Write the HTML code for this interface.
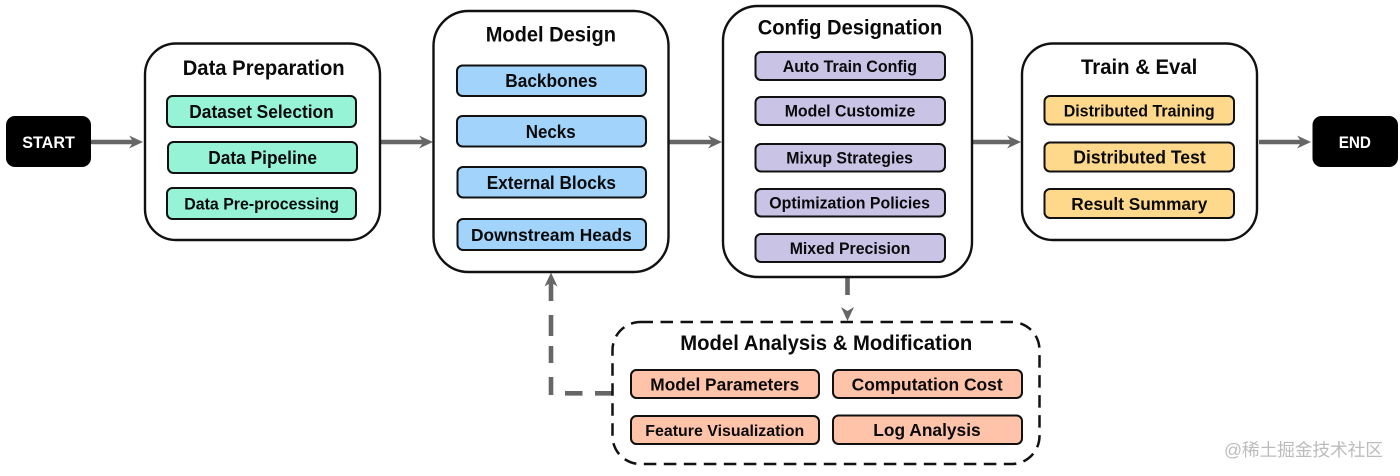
<!DOCTYPE html>
<html>
<head>
<meta charset="utf-8">
<style>
html,body{margin:0;padding:0;background:#fff;width:1400px;height:476px;overflow:hidden}
svg{display:block}
text{font-family:"Liberation Sans",Arial,sans-serif;font-weight:bold;fill:#0a0a0a}
.big{fill:#fff;stroke:#111;stroke-width:2.4}
.it{stroke:#111;stroke-width:2}
.g{fill:#97f3d6}.b{fill:#a1d3fb}.p{fill:#c9c3e6}.y{fill:#fed98c}.o{fill:#fec3a9}
.ln{stroke:#666;stroke-width:4.6;fill:none}
.hd{fill:#666}
.t{font-size:21px}
</style>
</head>
<body>
<svg width="1400" height="476" viewBox="0 0 1400 476" xmlns="http://www.w3.org/2000/svg">
<rect width="1400" height="476" fill="#fff"/>

<!-- connectors -->
<path class="ln" d="M91 142H136M381 142H425M669 142H714M972 142H1014M1259 142H1303"/>
<polygon class="hd" points="143,142 129,135.500 133.500,142 129,148.500"/>
<polygon class="hd" points="433,142 419,135.500 423.500,142 419,148.500"/>
<polygon class="hd" points="722,142 708,135.500 712.500,142 708,148.500"/>
<polygon class="hd" points="1021,142 1007,135.500 1011.500,142 1007,148.500"/>
<polygon class="hd" points="1311,142 1297,135.500 1301.500,142 1297,148.500"/>

<!-- dashed connectors -->
<path class="ln" d="M847.500 277V295"/>
<polygon class="hd" points="847.500,321 841,307 847.500,311 854,307"/>
<path class="ln" d="M612 393.300H595M582.500 393.300H565M551 395V377M551 363V346M551 336V315M551 301V281"/>
<polygon class="hd" points="551,272.500 544.500,286.500 551,282.500 557.500,286.500"/>

<!-- START / END -->
<rect x="6" y="116" width="85" height="51" rx="9" fill="#000"/>
<text x="22.300" y="148" font-size="17" textLength="52.500" lengthAdjust="spacingAndGlyphs" style="fill:#fff">START</text>
<rect x="1312.500" y="116" width="85.500" height="51" rx="9" fill="#000"/>
<text x="1338.700" y="148" font-size="17" textLength="32.300" lengthAdjust="spacingAndGlyphs" style="fill:#fff">END</text>

<!-- Data Preparation -->
<rect class="big" x="145" y="43.500" width="235" height="196.500" rx="31"/>
<text class="t" x="182.700" y="75" textLength="162" lengthAdjust="spacingAndGlyphs">Data Preparation</text>
<rect class="it g" x="167" y="96" width="189" height="31" rx="5.500"/>
<text x="189.300" y="118" font-size="18" textLength="144.400" lengthAdjust="spacingAndGlyphs">Dataset Selection</text>
<rect class="it g" x="168" y="142" width="189" height="31" rx="5.500"/>
<text x="208.300" y="164" font-size="18" textLength="108.700" lengthAdjust="spacingAndGlyphs">Data Pipeline</text>
<rect class="it g" x="167" y="188" width="189" height="31" rx="5.500"/>
<text x="184.300" y="209.300" font-size="16.800" textLength="154.700" lengthAdjust="spacingAndGlyphs">Data Pre-processing</text>

<!-- Model Design -->
<rect class="big" x="433.500" y="11" width="235" height="261" rx="35"/>
<text class="t" x="485.700" y="41.700" textLength="130.300" lengthAdjust="spacingAndGlyphs">Model Design</text>
<rect class="it b" x="457" y="65.500" width="189" height="30.500" rx="5.500"/>
<text x="505.300" y="87" font-size="18" textLength="92" lengthAdjust="spacingAndGlyphs">Backbones</text>
<rect class="it b" x="457" y="116" width="189" height="30.500" rx="5.500"/>
<text x="525.700" y="138" font-size="18" textLength="50" lengthAdjust="spacingAndGlyphs">Necks</text>
<rect class="it b" x="457.500" y="167" width="188.500" height="30.500" rx="5.500"/>
<text x="486.700" y="189" font-size="18" textLength="129.300" lengthAdjust="spacingAndGlyphs">External Blocks</text>
<rect class="it b" x="457.500" y="219" width="188.500" height="31" rx="5.500"/>
<text x="471" y="241" font-size="17.800" textLength="160.700" lengthAdjust="spacingAndGlyphs">Downstream Heads</text>

<!-- Config Designation -->
<rect class="big" x="723" y="6" width="249" height="271" rx="35"/>
<text class="t" x="757.700" y="34.700" textLength="184.600" lengthAdjust="spacingAndGlyphs">Config Designation</text>
<rect class="it p" x="755.500" y="52" width="189.500" height="28" rx="5.500"/>
<text x="782.700" y="72" font-size="16.800" textLength="134.300" lengthAdjust="spacingAndGlyphs">Auto Train Config</text>
<rect class="it p" x="755.500" y="97" width="189.500" height="28" rx="5.500"/>
<text x="784.700" y="116.700" font-size="16.800" textLength="130.600" lengthAdjust="spacingAndGlyphs">Model Customize</text>
<rect class="it p" x="755.500" y="144" width="189.500" height="27.500" rx="5.500"/>
<text x="786.300" y="163.700" font-size="16.800" textLength="126.700" lengthAdjust="spacingAndGlyphs">Mixup Strategies</text>
<rect class="it p" x="755.500" y="189" width="189.500" height="27.500" rx="5.500"/>
<text x="769.300" y="208.700" font-size="16.800" textLength="160.700" lengthAdjust="spacingAndGlyphs">Optimization Policies</text>
<rect class="it p" x="755.500" y="234" width="189.500" height="28" rx="5.500"/>
<text x="789.700" y="254" font-size="16.800" textLength="120.600" lengthAdjust="spacingAndGlyphs">Mixed Precision</text>

<!-- Train & Eval -->
<rect class="big" x="1022" y="43.500" width="235" height="196.500" rx="31"/>
<text class="t" x="1081" y="74" textLength="116.300" lengthAdjust="spacingAndGlyphs">Train &amp; Eval</text>
<rect class="it y" x="1044.500" y="96" width="189.500" height="28.500" rx="5.500"/>
<text x="1063.700" y="116.300" font-size="16.800" textLength="151" lengthAdjust="spacingAndGlyphs">Distributed Training</text>
<rect class="it y" x="1044.500" y="142.500" width="189.500" height="29" rx="5.500"/>
<text x="1073.300" y="163.700" font-size="18" textLength="132.400" lengthAdjust="spacingAndGlyphs">Distributed Test</text>
<rect class="it y" x="1044.500" y="189" width="189.500" height="29" rx="5.500"/>
<text x="1071.300" y="210" font-size="17.800" textLength="136" lengthAdjust="spacingAndGlyphs">Result Summary</text>

<!-- Model Analysis & Modification -->
<rect x="612.500" y="322" width="427" height="142" rx="28" fill="none" stroke="#111" stroke-width="2.500" stroke-dasharray="12.500 7.500"/>
<text class="t" x="680.300" y="350" textLength="292" lengthAdjust="spacingAndGlyphs">Model Analysis &amp; Modification</text>
<rect class="it o" x="631" y="370" width="188" height="28" rx="5.500"/>
<text x="650.300" y="390.700" font-size="17.200" textLength="149" lengthAdjust="spacingAndGlyphs">Model Parameters</text>
<rect class="it o" x="833" y="370" width="189" height="28" rx="5.500"/>
<text x="851.700" y="390.700" font-size="17.200" textLength="151" lengthAdjust="spacingAndGlyphs">Computation Cost</text>
<rect class="it o" x="631" y="416" width="188" height="28" rx="5.500"/>
<text x="645.300" y="436" font-size="15.800" textLength="159" lengthAdjust="spacingAndGlyphs">Feature Visualization</text>
<rect class="it o" x="833" y="415.500" width="189" height="28.500" rx="5.500"/>
<text x="873.300" y="436" font-size="17.200" textLength="107.400" lengthAdjust="spacingAndGlyphs">Log Analysis</text>

<!-- watermark -->
<text x="1224" y="456" font-size="17.800" textLength="159" style="font-family:'Liberation Sans','Noto Sans CJK SC',sans-serif;font-weight:normal;fill:#bcbcbc">@稀土掘金技术社区</text>
</svg>
</body>
</html>
